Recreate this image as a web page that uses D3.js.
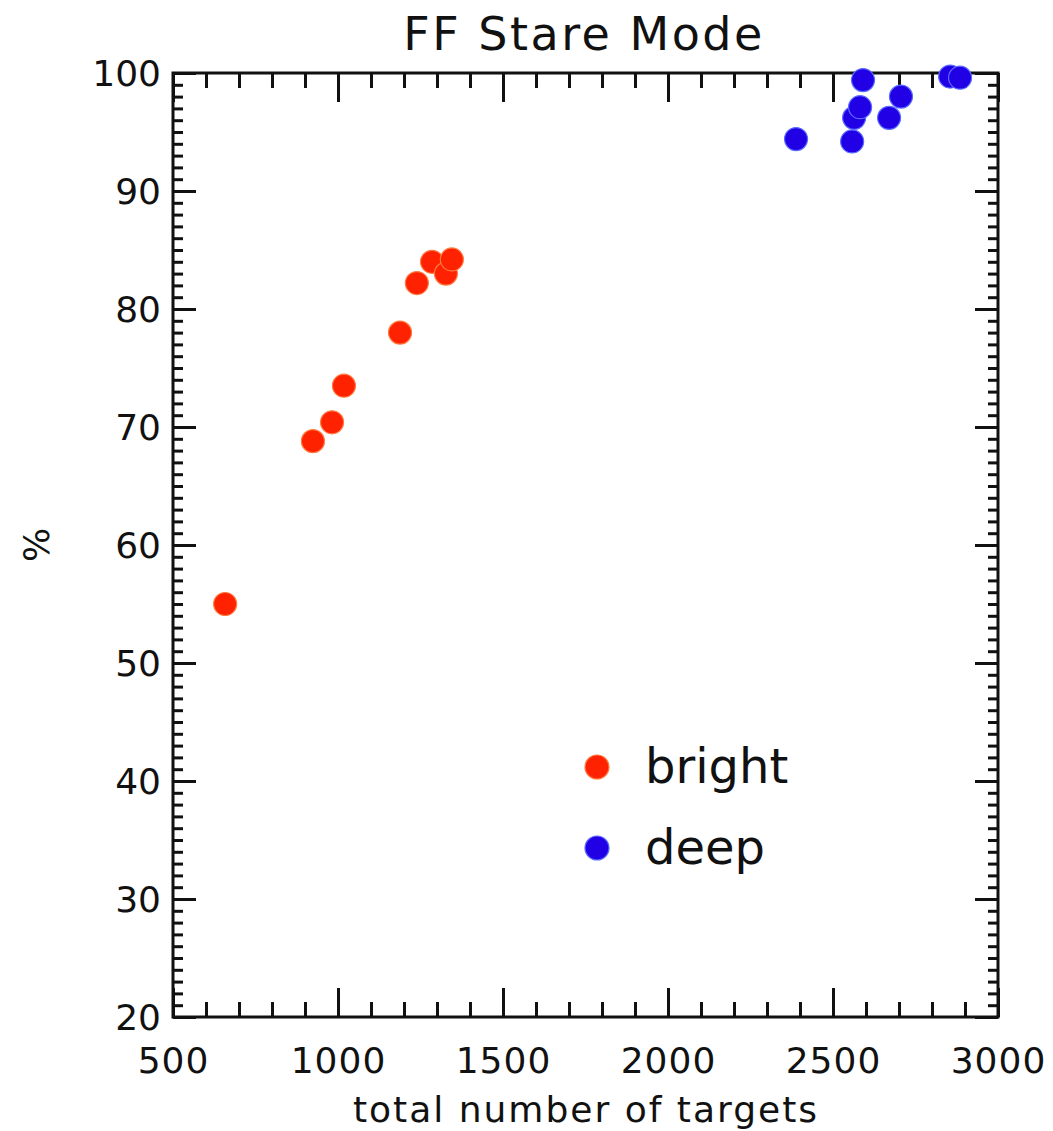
<!DOCTYPE html>
<html>
<head>
<meta charset="utf-8">
<script src="https://cdn.jsdelivr.net/npm/d3@7"></script>
<style>
  body { margin: 0; background: #fff; }
  svg text { font-family: "DejaVu Sans", sans-serif; fill: #111; }
</style>
</head>
<body>
<svg id="chart" width="1053" height="1131"></svg>
<script>
// values
var brightTargets = [658, 924, 982, 1018, 1188, 1239, 1285, 1327, 1345];
var brightPct     = [55.0, 68.8, 70.4, 73.5, 78.0, 82.2, 84.0, 83.0, 84.2];
var deepTargets   = [2388, 2558, 2564, 2582, 2591, 2670, 2706, 2855, 2885];
var deepPct       = [94.4, 94.2, 96.2, 97.1, 99.4, 96.2, 98.0, 99.7, 99.6];
var xTicks = [500, 1000, 1500, 2000, 2500, 3000];
var yTicks = [20, 30, 40, 50, 60, 70, 80, 90, 100];
var seriesNames = ["bright", "deep"];
var seriesColors = ["#ff2200", "#2200e6"];
var seriesEdges = ["#ff7a40", "#5a6cff"];

var svg = d3.select("#chart");
var plotLeft = 173, plotRight = 998, plotTop = 73, plotBottom = 1017;

var x = d3.scaleLinear().domain([500, 3000]).range([plotLeft, plotRight]);
var y = d3.scaleLinear().domain([20, 100]).range([plotBottom, plotTop]);

function styleAxis(g) {
    g.select(".domain").remove();
    g.selectAll("line").attr("stroke", "#111").attr("stroke-width", 3);
}

// minor ticks first, then major ones
var xMinor = d3.range(500, 3001, 100);
var yMinor = d3.range(20, 101, 1);

svg.append("g").attr("transform", "translate(0," + plotBottom + ")")
    .call(d3.axisBottom(x).tickValues(xMinor).tickSize(-15).tickFormat(""))
    .call(styleAxis);
svg.append("g").attr("transform", "translate(0," + plotTop + ")")
    .call(d3.axisTop(x).tickValues(xMinor).tickSize(-15).tickFormat(""))
    .call(styleAxis);
svg.append("g").attr("transform", "translate(" + plotLeft + ",0)")
    .call(d3.axisLeft(y).tickValues(yMinor).tickSize(-10).tickFormat(""))
    .call(styleAxis);
svg.append("g").attr("transform", "translate(" + plotRight + ",0)")
    .call(d3.axisRight(y).tickValues(yMinor).tickSize(-10).tickFormat(""))
    .call(styleAxis);

var xb = svg.append("g").attr("transform", "translate(0," + plotBottom + ")")
    .call(d3.axisBottom(x).tickValues(xTicks).tickSize(-29).tickPadding(0).tickFormat(d3.format("d")))
    .call(styleAxis);
xb.selectAll("text").attr("font-size", 36).attr("y", 56).attr("dy", 0)
    .attr("letter-spacing", 1);

svg.append("g").attr("transform", "translate(0," + plotTop + ")")
    .call(d3.axisTop(x).tickValues(xTicks).tickSize(-29).tickFormat(""))
    .call(styleAxis);

var yl = svg.append("g").attr("transform", "translate(" + plotLeft + ",0)")
    .call(d3.axisLeft(y).tickValues(yTicks).tickSize(-23).tickFormat(d3.format("d")))
    .call(styleAxis);
yl.selectAll("text").attr("font-size", 36).attr("x", -12).attr("dy", "0.36em");

svg.append("g").attr("transform", "translate(" + plotRight + ",0)")
    .call(d3.axisRight(y).tickValues(yTicks).tickSize(-23).tickFormat(""))
    .call(styleAxis);

// frame
svg.append("rect")
    .attr("x", plotLeft).attr("y", plotTop)
    .attr("width", plotRight - plotLeft).attr("height", plotBottom - plotTop)
    .attr("fill", "none").attr("stroke", "#111").attr("stroke-width", 3);

// points
var series = [
    { targets: brightTargets, pct: brightPct },
    { targets: deepTargets, pct: deepPct }
];
series.forEach(function (s, k) {
    svg.append("g").selectAll("circle")
        .data(s.targets)
        .enter().append("circle")
        .attr("cx", function (d) { return x(d); })
        .attr("cy", function (d, i) { return y(s.pct[i]); })
        .attr("r", 11.5)
        .attr("fill", seriesColors[k])
        .attr("stroke", seriesEdges[k])
        .attr("stroke-width", 1.2);
});

// legend
var legend = svg.append("g").attr("transform", "translate(597,767)");
seriesNames.forEach(function (name, k) {
    var row = legend.append("g").attr("transform", "translate(0," + (k * 81) + ")");
    row.append("circle").attr("r", 12)
        .attr("fill", seriesColors[k]).attr("stroke", seriesEdges[k]).attr("stroke-width", 1.2);
    row.append("text").attr("x", 48).attr("y", 16)
        .attr("font-size", 48).text(name);
});

// titles
svg.append("text").attr("x", 584).attr("y", 50)
    .attr("text-anchor", "middle").attr("font-size", 46)
    .attr("letter-spacing", 2.5).text("FF Stare Mode");
svg.append("text").attr("x", 586).attr("y", 1122)
    .attr("text-anchor", "middle").attr("font-size", 36)
    .attr("letter-spacing", 2).text("total number of targets");
svg.append("text").attr("transform", "translate(49,545) rotate(-90)")
    .attr("text-anchor", "middle").attr("font-size", 36).text("%");
</script>
</body>
</html>
